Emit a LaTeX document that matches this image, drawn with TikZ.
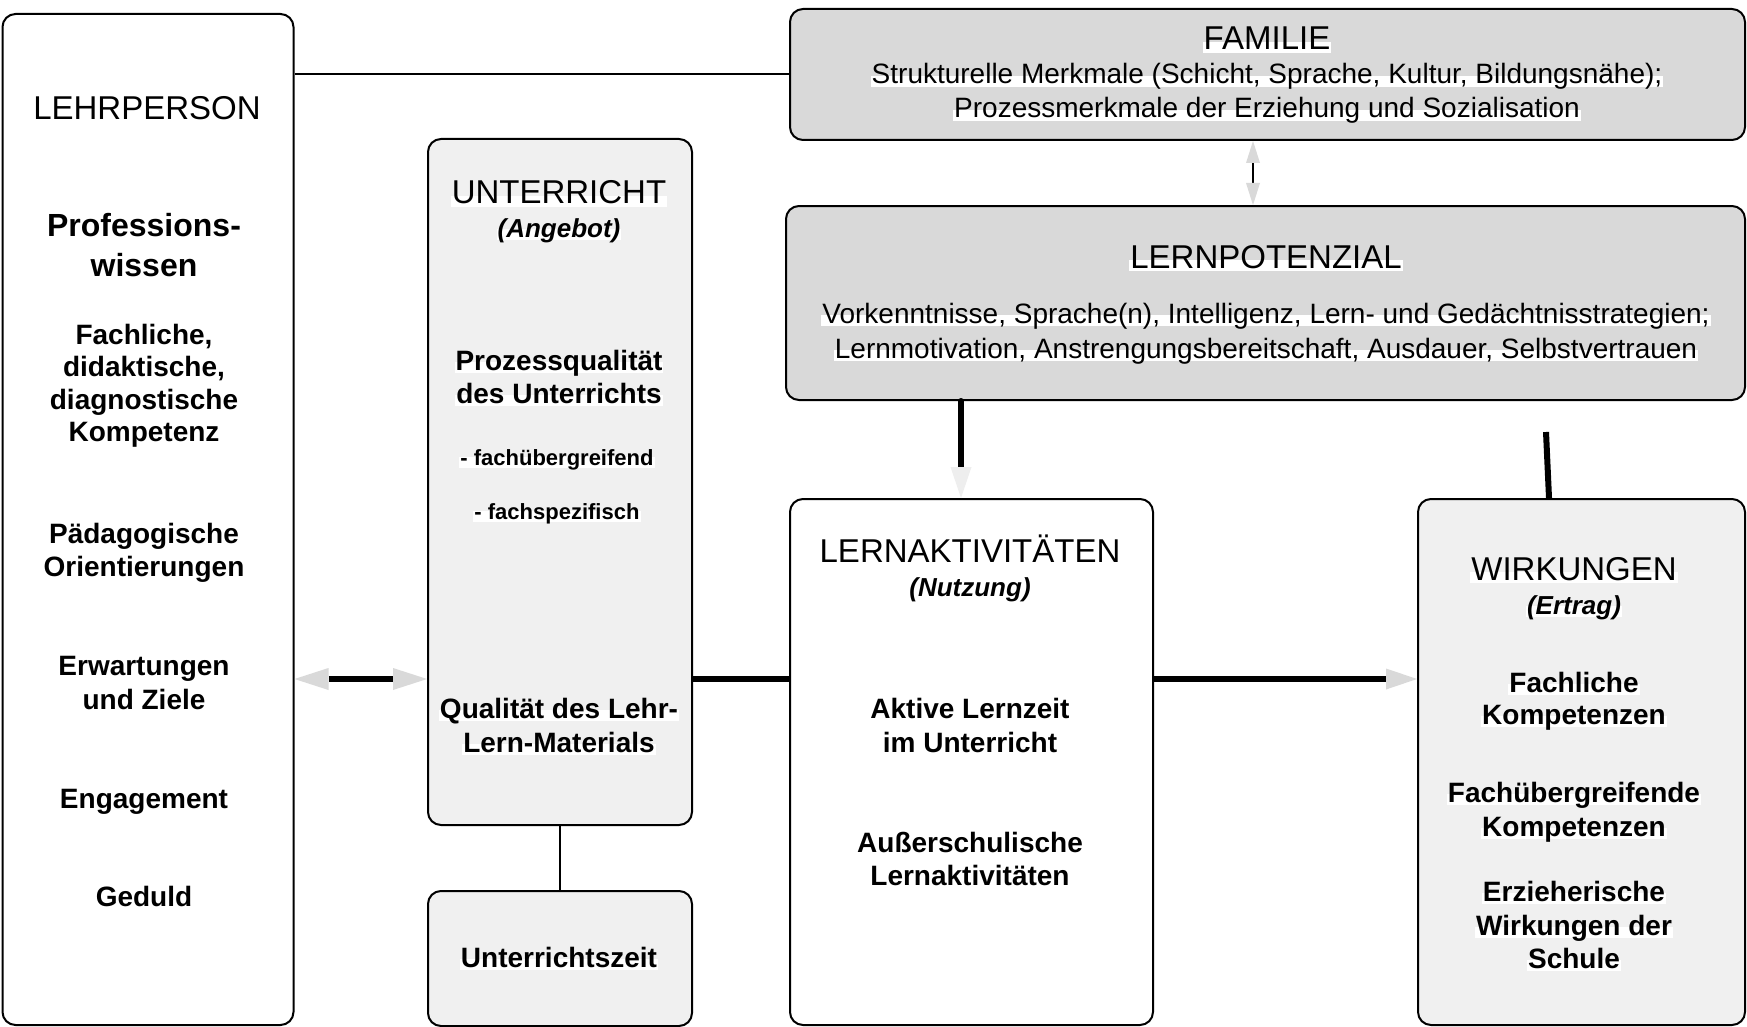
\documentclass[tikz,border=0pt]{standalone}
\usepackage{fontspec}
\setmainfont{Liberation Sans}
\usetikzlibrary{arrows.meta}
\definecolor{boxgray}{RGB}{217,217,217}
\definecolor{boxlight}{RGB}{240,240,240}
\definecolor{headgray}{RGB}{217,217,217}
\definecolor{headlight}{RGB}{238,238,238}
\begin{document}
\begin{tikzpicture}[x=1pt,y=-1pt,
  box/.style={draw=black, line width=2pt, rounded corners=13pt, anchor=north west, inner sep=0pt},
  lbl/.style={anchor=base, fill=white, inner xsep=1pt, inner ysep=0.5pt, text height=0.74em, text depth=0.21em},
  hd/.style={lbl, font=\fontsize{33}{38}\selectfont},
  bd/.style={lbl, font=\bfseries\fontsize{28}{32}\selectfont},
  bb/.style={lbl, font=\bfseries\fontsize{32}{36}\selectfont},
  itl/.style={lbl, font=\bfseries\itshape\fontsize{26}{30}\selectfont},
  sm/.style={lbl, font=\bfseries\fontsize{22}{26}\selectfont},
  fm/.style={lbl, font=\fontsize{28}{32}\selectfont},
  thin/.style={line width=2pt},
  thick6/.style={line width=6pt},
]
\useasboundingbox (0,0) rectangle (1747,1027);
\fill[white] (0,0) rectangle (1747,1027);

% boxes
\node[box, fill=white, minimum width=291pt, minimum height=1011pt] (lehr) at (1.5,13) {};
\node[box, fill=boxlight, minimum width=264pt, minimum height=686pt] (unter) at (427,138) {};
\node[box, fill=boxlight, minimum width=264pt, minimum height=135pt] (uzeit) at (427,890) {};
\node[box, fill=boxgray, minimum width=955pt, minimum height=131pt] (fam) at (789,8) {};
\node[box, fill=boxgray, minimum width=959pt, minimum height=194pt] (pot) at (785,205) {};
\node[box, fill=white, minimum width=363pt, minimum height=526pt] (akt) at (789,498) {};
\node[box, fill=boxlight, minimum width=327pt, minimum height=526pt] (wirk) at (1417,498) {};

% connectors
\coordinate (ra) at (0,679);
\coordinate (ca) at (1253,0);
\coordinate (cb) at (961,0);
\coordinate (w0) at (1546,432);
\coordinate (cw) at (1549,0);
\draw[thin] (lehr.east |- fam.west) -- (fam.west);
\draw[thin] (unter.south) -- (uzeit.north);
\draw[thin, {Triangle[length=22pt,width=14pt,line width=0pt,color=headgray]}-{Triangle[length=22pt,width=14pt,line width=0pt,color=headgray]}] (fam.south -| ca) -- (pot.north -| ca);
\draw[thick6, line cap=round, -{Triangle[length=31pt,width=21pt,line width=0pt,color=headlight]}] (pot.south -| cb) -- (akt.north -| cb);
\draw[thick6] (w0) -- (wirk.north -| cw);
\draw[thick6, {Triangle[length=34pt,width=22pt,line width=0pt,color=headgray]}-{Triangle[length=34pt,width=22pt,line width=0pt,color=headgray]}] (lehr.east |- ra) -- (unter.west |- ra);
\draw[thick6] (unter.east |- ra) -- (akt.west |- ra);
\draw[thick6, -{Triangle[length=31pt,width=21pt,line width=0pt,color=headgray]}] (akt.east |- ra) -- (wirk.west |- ra);

% LEHRPERSON texts
\node[hd] (l1) at (147,120) {LEHRPERSON};
\node[bb] (l2) at (144,236) {Professions-};
\node[bb] (l3) at (144,276) {wissen};
\node[bd] (l4) at (144,344) {Fachliche,};
\node[bd] (l5) at (144,376) {didaktische,};
\node[bd] (l6) at (144,409) {diagnostische};
\node[bd] (l7) at (144,441) {Kompetenz};
\node[bd] (l8) at (144,543) {Pädagogische};
\node[bd] (l9) at (144,576) {Orientierungen};
\node[bd] (l10) at (144,675) {Erwartungen};
\node[bd] (l11) at (144,709) {und Ziele};
\node[bd] (l12) at (144,808) {Engagement};
\node[bd] (l13) at (144,906) {Geduld};

% UNTERRICHT texts
\node[hd] (u1) at (559,204) {UNTERRICHT};
\node[itl] (u2) at (559,237) {(Angebot)};
\node[bd] (u3) at (559,370) {Prozessqualität};
\node[bd] (u4) at (559,403) {des Unterrichts};
\node[sm] (u5) at (557,465) {- fachübergreifend};
\node[sm] (u6) at (557,519) {- fachspezifisch};
\node[bd] (u7) at (559,718) {Qualität des Lehr-};
\node[bd] (u8) at (559,752) {Lern-Materials};
\node[bd] (z1) at (559,967) {Unterrichtszeit};

% FAMILIE texts
\node[hd] (f1) at (1267,50) {FAMILIE};
\node[fm] (f2) at (1267,84) {Strukturelle Merkmale (Schicht, Sprache, Kultur, Bildungsnähe);};
\node[fm] (f3) at (1267,118) {Prozessmerkmale der Erziehung und Sozialisation};

% LERNPOTENZIAL texts
\node[hd] (p1) at (1266,268) {LERNPOTENZIAL};
\node[fm] (p2) at (1266,323) {Vorkenntnisse, Sprache(n), Intelligenz, Lern- und Gedächtnisstrategien;};
\node[fm] (p3) at (1266,358) {Lernmotivation, Anstrengungsbereitschaft, Ausdauer, Selbstvertrauen};

% LERNAKTIVITAETEN texts
\node[hd] (a1) at (970,562) {LERNAKTIVITÄTEN};
\node[itl] (a2) at (970,596) {(Nutzung)};
\node[bd] (a3) at (970,718) {Aktive Lernzeit};
\node[bd] (a4) at (970,752) {im Unterricht};
\node[bd] (a5) at (970,852) {Außerschulische};
\node[bd] (a6) at (970,885) {Lernaktivitäten};

% WIRKUNGEN texts
\node[hd] (k1) at (1574,580) {WIRKUNGEN};
\node[itl] (k2) at (1574,614) {(Ertrag)};
\node[bd] (k3) at (1574,692) {Fachliche};
\node[bd] (k4) at (1574,724) {Kompetenzen};
\node[bd] (k5) at (1574,802) {Fachübergreifende};
\node[bd] (k6) at (1574,836) {Kompetenzen};
\node[bd] (k7) at (1574,901) {Erzieherische};
\node[bd] (k8) at (1574,935) {Wirkungen der};
\node[bd] (k9) at (1574,968) {Schule};
\end{tikzpicture}
\end{document}
